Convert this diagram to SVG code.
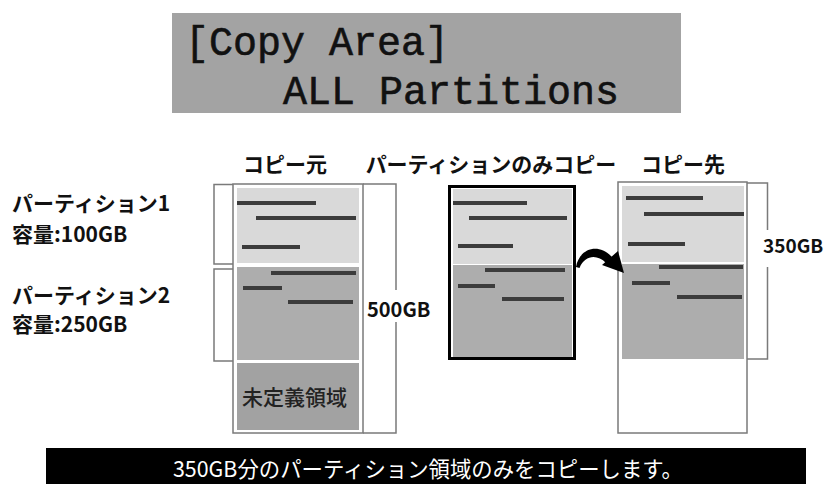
<svg xmlns="http://www.w3.org/2000/svg" width="824" height="484" viewBox="0 0 824 484">
<style>
.jp{font-family:"Noto Sans CJK JP","Liberation Sans",sans-serif;font-weight:bold;fill:#111}
.lcd{font-family:"Liberation Mono","DejaVu Sans Mono",monospace;font-size:40px;fill:#111;stroke:#111;stroke-width:0.6}
.frame{fill:#fff;stroke:#7a7a7a;stroke-width:1.5}
.br{fill:none;stroke:#7a7a7a;stroke-width:1.5}
.p1{fill:#d9d9d9}
.p2{fill:#adadad}
.un{fill:#a2a2a2}
.ln{fill:#3c3c3c}
</style>
<rect width="824" height="484" fill="#fff"/>
<g id="title">
<rect x="172" y="13" width="509" height="100" fill="#a3a3a3"/>
<text class="lcd" x="185" y="55">[Copy Area]</text>
<text class="lcd" x="283" y="104">ALL Partitions</text>
</g>
<g id="headers">
<text class="jp" x="285" y="172" font-size="21" text-anchor="middle">コピー元</text>
<text class="jp" x="491" y="172" font-size="21" text-anchor="middle">パーティションのみコピー</text>
<text class="jp" x="683" y="172" font-size="21" text-anchor="middle">コピー先</text>
</g>
<g id="labels">
<text class="jp" x="12" y="211" font-size="21">パーティション1</text>
<text class="jp" x="12" y="242" font-size="21">容量:100GB</text>
<text class="jp" x="12" y="303" font-size="21">パーティション2</text>
<text class="jp" x="12" y="332" font-size="21">容量:250GB</text>
</g>
<g id="source-disk">
<rect class="frame" x="233" y="184" width="130" height="249"/>
<rect class="p1" x="237" y="188" width="122" height="75"/>
<rect class="p2" x="237" y="267" width="122" height="93"/>
<rect class="un" x="237" y="363" width="122" height="67"/>
<rect class="ln" x="237" y="201" width="79" height="4"/>
<rect class="ln" x="256" y="216" width="100" height="4"/>
<rect class="ln" x="242" y="245" width="58" height="4"/>
<rect class="ln" x="271" y="271" width="85" height="4"/>
<rect class="ln" x="243" y="286" width="39" height="4"/>
<rect class="ln" x="288" y="300" width="65" height="4"/>
<text x="242" y="405" font-size="21" font-family="Noto Sans CJK JP,sans-serif" font-weight="500" fill="#222">未定義領域</text>
</g>
<g id="partition-only">
<rect x="449.5" y="186.5" width="125" height="172" fill="#fff" stroke="#000" stroke-width="3"/>
<rect class="p1" x="453" y="189" width="119" height="75"/>
<rect class="p2" x="453" y="265" width="119" height="92"/>
<rect class="ln" x="453" y="201" width="74" height="4"/>
<rect class="ln" x="469" y="216" width="98" height="4"/>
<rect class="ln" x="458" y="244" width="55" height="4"/>
<rect class="ln" x="485" y="268" width="80" height="4"/>
<rect class="ln" x="458" y="284" width="37" height="4"/>
<rect class="ln" x="502" y="297" width="62" height="4"/>
</g>
<g id="dest-disk">
<rect class="frame" x="618" y="182" width="129" height="251"/>
<rect class="p1" x="622" y="186" width="122" height="76"/>
<rect class="p2" x="622" y="264" width="122" height="95"/>
<rect class="ln" x="626" y="196" width="77" height="4"/>
<rect class="ln" x="644" y="212" width="100" height="4"/>
<rect class="ln" x="628" y="242" width="57" height="4"/>
<rect class="ln" x="659" y="265" width="84" height="4"/>
<rect class="ln" x="632" y="281" width="38" height="4"/>
<rect class="ln" x="677" y="295" width="65" height="4"/>
</g>
<g id="connectors">
<path class="br" d="M233,184.5 H214 V264 H233"/>
<path class="br" d="M233,269 H214 V361 H233"/>
<path class="br" d="M363,184 H396 V290 M396,322 V433 H363"/>
<path class="br" d="M747,183 H767.5 V230 M767.5,267 V359 H747"/>
<path d="M576,267 C579,249 598,242 612,257 L606,263 C597,254 585,255 579.5,268 Z" fill="#000"/>
<polygon points="602,265 618,251 624,273" fill="#000"/>
</g>
<g id="sizes">
<text class="jp" x="367" y="317" font-size="20" font-family="Liberation Sans,sans-serif">500GB</text>
<text class="jp" x="763" y="253" font-size="19" font-family="Liberation Sans,sans-serif">350GB</text>
</g>
<g id="caption">
<rect x="46" y="448" width="760" height="36" fill="#000"/>
<text x="173" y="477" font-size="22" textLength="510" lengthAdjust="spacingAndGlyphs" font-family="Noto Sans CJK JP,sans-serif" fill="#fff">350GB分のパーティション領域のみをコピーします。</text>
</g>
</svg>
